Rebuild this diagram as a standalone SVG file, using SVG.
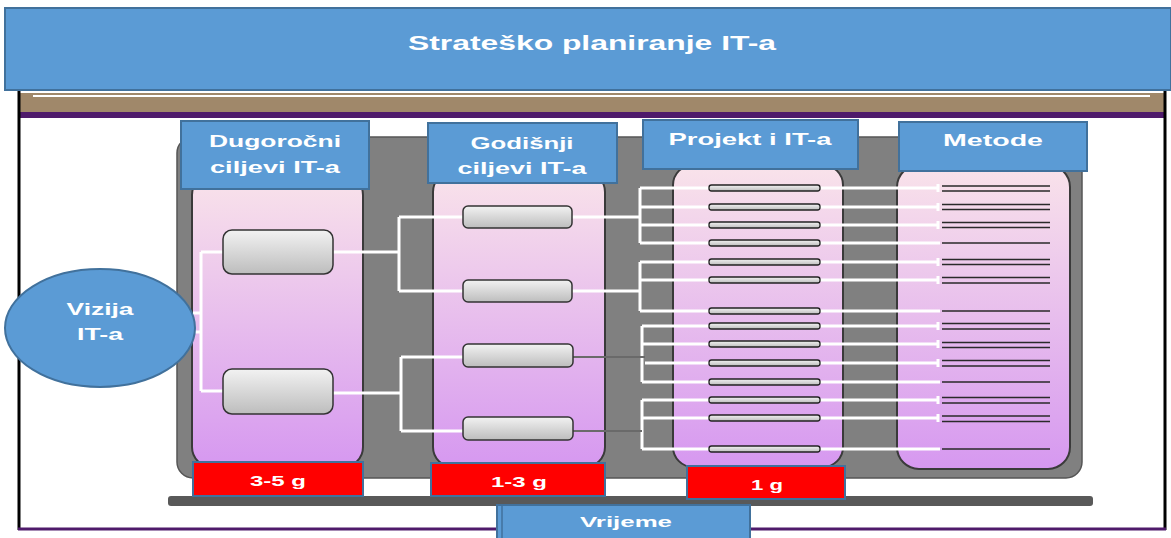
<svg xmlns="http://www.w3.org/2000/svg" width="1171" height="538" viewBox="0 0 1171 538">
<defs>
<linearGradient id="colg" x1="0" y1="0" x2="0" y2="1">
<stop offset="0" stop-color="#F9E3EA"/>
<stop offset="1" stop-color="#D698F0"/>
</linearGradient>
<linearGradient id="boxg" x1="0" y1="0" x2="0" y2="1">
<stop offset="0" stop-color="#F2F2F2"/>
<stop offset="1" stop-color="#BDBDBD"/>
</linearGradient>
<style>
.hdr{fill:#5B9BD5;stroke:#41719C;stroke-width:2}
.t{font-family:"Liberation Sans",Arial,sans-serif;font-weight:bold;fill:#fff;text-anchor:middle}
.col{fill:url(#colg);stroke:#3A3A3A;stroke-width:2}
.box{fill:url(#boxg);stroke:#333;stroke-width:1.5}
.bar{fill:url(#boxg);stroke:#222;stroke-width:1.3}
.red{fill:#FF0000;stroke:#41719C;stroke-width:2}
.w{stroke:#fff;stroke-width:3;fill:none}
.d{stroke:#6A6A6A;stroke-width:2;fill:none}
.m{stroke:#2A2A2A;stroke-width:1.5}
</style>
</defs>
<rect x="0" y="0" width="1171" height="538" fill="#fff"/>
<!-- frame -->
<g id="frame">
<rect x="18" y="93" width="1147" height="19" fill="#A0886A"/>
<line x1="33" y1="96" x2="1150" y2="96" stroke="#fff" stroke-width="2"/>
<rect x="18" y="112" width="1147" height="6" fill="#4F1A6B"/>
<line x1="19" y1="90" x2="19" y2="530" stroke="#000" stroke-width="3"/>
<line x1="1165" y1="90" x2="1165" y2="530" stroke="#000" stroke-width="3"/>
<line x1="18" y1="529" x2="1166" y2="529" stroke="#4F1A6B" stroke-width="3"/>
</g>
<g id="title">
<rect x="5" y="8" width="1166" height="82" class="hdr"/>
<text x="592" y="50" class="t" font-size="20" textLength="368" lengthAdjust="spacingAndGlyphs">Strateško planiranje IT-a</text>
</g>
<!-- background -->
<rect id="background" x="177" y="137" width="905" height="341" rx="16" fill="#808080" stroke="#555" stroke-width="1.5"/>
<rect id="timebar" x="168" y="496" width="925" height="10" rx="3" fill="#595959"/>
<!-- columns -->
<rect id="col1" x="192" y="175" width="171" height="292" rx="20" class="col"/>
<rect id="col2" x="433" y="172" width="172" height="295" rx="20" class="col"/>
<rect id="col3" x="673" y="165" width="170" height="302" rx="20" class="col"/>
<rect id="col4" x="897" y="165" width="173" height="304" rx="22" class="col"/>
<!-- connectors -->
<g id="connectors">
<path class="w" d="M193 313H201M193 332H201M201 252V391M201 252H223M201 391H223"/>
<path class="w" d="M333 252H399M399 217V291M399 217H463M399 291H463"/>
<path class="w" d="M333 393H401M401 357V431M401 357H463M401 431H463"/>
<path class="w" d="M572 217H640M640 188V243M640 188H709M640 207H709M640 225H709M640 243H709"/>
<path class="w" d="M572 291H640M640 262V311M640 262H709M640 280H709M640 311H709"/>
<path class="w" d="M642 326V382M642 326H709M642 344H709M645 363H709M642 382H709"/>
<path class="w" d="M642 400V449M642 400H709M642 418H709M642 449H709"/>
<path class="d" d="M573 357H645M573 431H642"/>
<path class="w" d="M820 188H938M820 207H938M820 225H938M820 243H940M820 262H938M820 280H938M820 311H940M820 326H938M820 344H938M820 363H938M820 382H940M820 400H938M820 418H938M820 449H940"/>
<path class="w" d="M938 184V192M938 203V211M938 221V229M938 258V266M938 276V284M938 322V330M938 340V348M938 359V367M938 396V404M938 414V422"/>
</g>
<!-- methods lines -->
<g id="metode-lines">
<path class="m" d="M942 186H1050M942 191H1050M942 204.5H1050M942 209.5H1050M942 222.5H1050M942 227.5H1050M942 243H1050M942 259.5H1050M942 264.5H1050M942 277.5H1050M942 283H1050M942 311H1050M942 323.5H1050M942 329H1050M942 342.5H1050M942 347.5H1050M942 360.5H1050M942 366H1050M942 382H1050M942 397.5H1050M942 403H1050M942 416H1050M942 421.5H1050M942 449H1050"/>
</g>
<!-- col1 boxes -->
<g id="dug-box1"><rect x="223" y="230" width="110" height="44" rx="9" class="box"/></g>
<g id="dug-box2"><rect x="223" y="369" width="110" height="45" rx="9" class="box"/></g>
<!-- col2 boxes -->
<g id="god-box1"><rect x="463" y="206" width="109" height="22" rx="5" class="box"/></g>
<g id="god-box2"><rect x="463" y="280" width="109" height="22" rx="5" class="box"/></g>
<g id="god-box3"><rect x="463" y="344" width="110" height="23" rx="5" class="box"/></g>
<g id="god-box4"><rect x="463" y="417" width="110" height="23" rx="5" class="box"/></g>
<!-- project bars -->
<g id="projekti">
<rect x="709" y="185" width="111" height="6" rx="2.5" class="bar"/>
<rect x="709" y="204" width="111" height="6" rx="2.5" class="bar"/>
<rect x="709" y="222" width="111" height="6" rx="2.5" class="bar"/>
<rect x="709" y="240" width="111" height="6" rx="2.5" class="bar"/>
<rect x="709" y="259" width="111" height="6" rx="2.5" class="bar"/>
<rect x="709" y="277" width="111" height="6" rx="2.5" class="bar"/>
<rect x="709" y="308" width="111" height="6" rx="2.5" class="bar"/>
<rect x="709" y="323" width="111" height="6" rx="2.5" class="bar"/>
<rect x="709" y="341" width="111" height="6" rx="2.5" class="bar"/>
<rect x="709" y="360" width="111" height="6" rx="2.5" class="bar"/>
<rect x="709" y="379" width="111" height="6" rx="2.5" class="bar"/>
<rect x="709" y="397" width="111" height="6" rx="2.5" class="bar"/>
<rect x="709" y="415" width="111" height="6" rx="2.5" class="bar"/>
<rect x="709" y="446" width="111" height="6" rx="2.5" class="bar"/>
</g>
<!-- headers -->
<g id="hdr-dugorocni">
<rect x="181" y="121" width="188" height="68" class="hdr"/>
<text x="275" y="147" class="t" font-size="17" textLength="132" lengthAdjust="spacingAndGlyphs">Dugoročni</text>
<text x="275" y="173" class="t" font-size="17" textLength="130" lengthAdjust="spacingAndGlyphs">ciljevi IT-a</text>
</g>
<g id="hdr-godisnji">
<rect x="428" y="123" width="189" height="60" class="hdr"/>
<text x="522" y="149" class="t" font-size="17" textLength="103" lengthAdjust="spacingAndGlyphs">Godišnji</text>
<text x="522" y="174" class="t" font-size="17" textLength="129" lengthAdjust="spacingAndGlyphs">ciljevi IT-a</text>
</g>
<g id="hdr-projekti">
<rect x="643" y="120" width="215" height="49" class="hdr"/>
<text x="750" y="145" class="t" font-size="17" textLength="163" lengthAdjust="spacingAndGlyphs">Projekt i IT-a</text>
</g>
<g id="hdr-metode">
<rect x="899" y="122" width="188" height="49" class="hdr"/>
<text x="993" y="146" class="t" font-size="17" textLength="100" lengthAdjust="spacingAndGlyphs">Metode</text>
</g>
<!-- vision -->
<g id="vizija">
<ellipse cx="100" cy="328" rx="95" ry="59" fill="#5B9BD5" stroke="#41719C" stroke-width="2"/>
<text x="100" y="315" class="t" font-size="17" textLength="67" lengthAdjust="spacingAndGlyphs">Vizija</text>
<text x="100" y="340" class="t" font-size="17" textLength="46" lengthAdjust="spacingAndGlyphs">IT-a</text>
</g>
<!-- durations -->
<g id="dur-3-5">
<rect x="193" y="462" width="170" height="34" class="red"/>
<text x="278" y="486" class="t" font-size="15" textLength="56" lengthAdjust="spacingAndGlyphs">3-5 g</text>
</g>
<g id="dur-1-3">
<rect x="431" y="463" width="174" height="33" class="red"/>
<text x="519" y="487" class="t" font-size="15" textLength="56" lengthAdjust="spacingAndGlyphs">1-3 g</text>
</g>
<g id="dur-1">
<rect x="687" y="466" width="158" height="33" class="red"/>
<text x="767" y="490" class="t" font-size="15" textLength="32" lengthAdjust="spacingAndGlyphs">1 g</text>
</g>
<g id="vrijeme">
<rect x="497" y="505" width="253" height="36" class="hdr"/>
<line x1="502" y1="506" x2="502" y2="538" stroke="#41719C" stroke-width="1.5"/>
<text x="626" y="527" class="t" font-size="15" textLength="92" lengthAdjust="spacingAndGlyphs">Vrijeme</text>
</g>
</svg>
